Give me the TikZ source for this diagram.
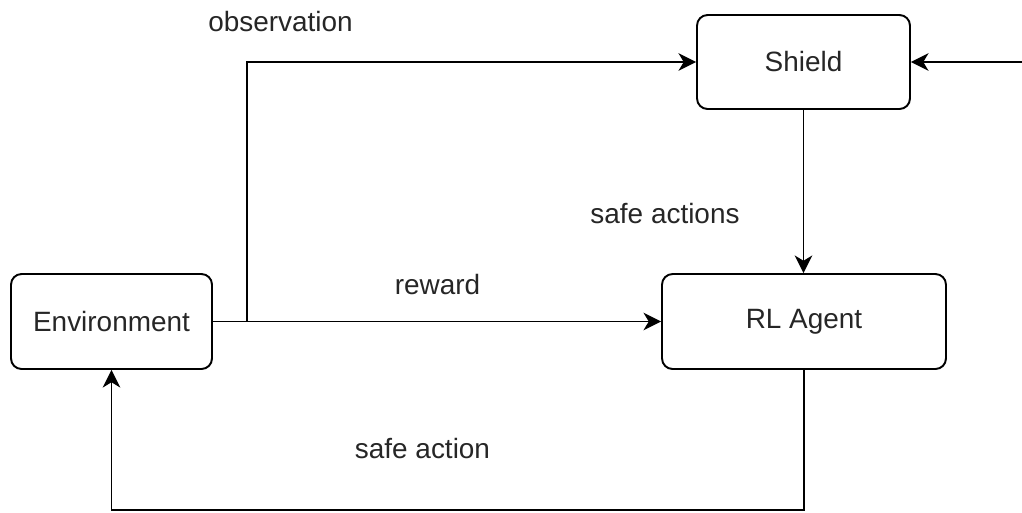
\documentclass[tikz,border=0pt]{standalone}
\usepackage{fontspec}
\setmainfont{Liberation Sans}
\usetikzlibrary{arrows.meta}

\begin{document}
\begin{tikzpicture}
            [
                x=0.02cm, y=-0.02cm,
                line width=1.1pt,
                font=\fontsize{15.9}{19}\selectfont,
                >={Stealth[length=10pt,width=10pt,inset=3pt]}
            ]
            \tikzset{
                block/.style = {rectangle, rounded corners=6pt, draw=black, align=center, minimum height=1.9cm},
                edgelabel/.style = {draw=none, inner sep=0pt, text=black!85}
            }
            \useasboundingbox (0,0) rectangle (1022,512);
            % boxes
            \node [block, minimum width=4.02cm, text=black!85] (env) at (111.5,321.5) {Environment};
            \node [block, minimum width=5.68cm, text=black!85] (agent) at (804,321.5) {RL Agent};
            \node [block, minimum width=4.26cm, minimum height=1.88cm, text=black!85] (shield) at (803.5,62) {Shield};
            % bends
            \coordinate (split) at (247,321.5);
            \coordinate (ret) at (804,510);
            \coordinate (ext) at (1022,62);
            % connectors
            \draw [->] (env.east) -- (agent.west);
            \draw [->] (split) |- (shield.west);
            \draw [->] (shield.south) -- (shield.south |- agent.north);
            \draw [->] (agent.south) -- (ret) -| (env.south);
            \draw [->] (ext) -- (shield.east);
            % labels
            \node [edgelabel] (obslabel) at (280.5,22) {observation};
            \node [edgelabel] (rewlabel) at (437.5,285) {reward};
            \node [edgelabel] (safelabel) at (665,214) {safe actions};
            \node [edgelabel] (actlabel) at (422.5,449) {safe action};
        \end{tikzpicture}
\end{document}
